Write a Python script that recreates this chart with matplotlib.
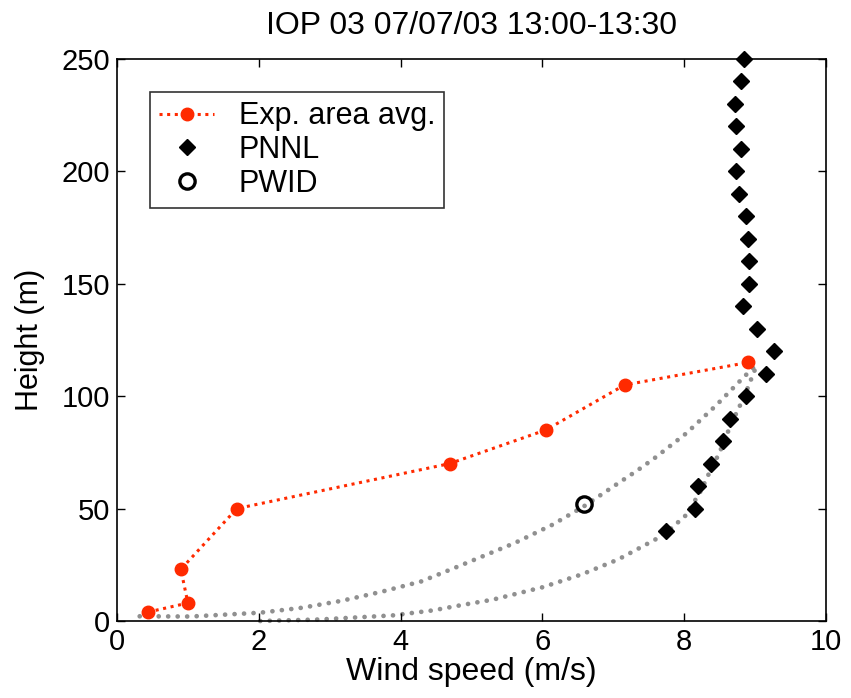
import numpy as np
import matplotlib.pyplot as plt

plt.rcParams['font.family'] = ['Liberation Sans', 'DejaVu Sans']

# experimental area average profile
exp_speed = [0.44, 1.00, 0.90, 1.69, 4.69, 6.05, 7.16, 8.90]
exp_height = [4, 8, 23, 50, 70, 85, 105, 115]

# PNNL profiler
pnnl_speed = [7.74, 8.15, 8.19, 8.38, 8.55, 8.64, 8.87, 9.15, 9.26, 9.03,
              8.83, 8.92, 8.92, 8.90, 8.87, 8.78, 8.73, 8.80, 8.73, 8.71,
              8.80, 8.85]
pnnl_height = [40, 50, 60, 70, 80, 90, 100, 110, 120, 130,
               140, 150, 160, 170, 180, 190, 200, 210, 220, 230,
               240, 250]

# PWID point
pwid_speed = [6.58]
pwid_height = [52]

# fitted profiles (dotted grey)
fit1_speed = [0.32, 1.04, 2.02, 2.61, 3.17, 3.73, 4.29, 4.83, 5.09, 5.61,
              6.14, 6.58, 6.98, 7.34, 7.58, 8.03, 8.45, 8.85, 9.04]
fit1_height = [2.1, 2.0, 3.7, 5.9, 9.0, 13.0, 17.6, 24.5, 27.9, 34.7,
               42.8, 50.9, 59.4, 67.0, 72.4, 83.5, 95.9, 108.8, 114.6]
fit2_speed = [2.02, 2.87, 3.89, 4.45, 4.88, 5.30, 6.00, 6.56, 7.07, 7.33,
              7.59, 7.82, 8.03, 8.24, 8.37, 8.50, 8.66, 8.85, 9.00]
fit2_height = [0.0, 0.7, 2.5, 4.7, 7.2, 9.5, 15.0, 20.8, 27.4, 31.8,
               36.2, 41.3, 47.2, 58.2, 67.0, 75.0, 87.5, 100.0, 112.0]

fig = plt.figure(figsize=(8.51, 6.98), dpi=100)
ax = fig.add_axes([0.1375, 0.1103, 0.8331, 0.8052])

dots = (0, (0.01, 2.0))
for xs, ys in [(fit1_speed, fit1_height), (fit2_speed, fit2_height)]:
    ax.plot(xs, ys, linestyle=dots, color='#909090', linewidth=3.4,
            dash_capstyle='round', zorder=1, clip_on=False)

ax.plot(exp_speed, exp_height, linestyle=(0, (1, 1.5)), color='#ff2a00',
        linewidth=2.2, marker='o', markersize=9, markerfacecolor='#ff2a00',
        markeredgecolor='#ff2a00', label='Exp. area avg.', zorder=3)
ax.plot(pnnl_speed, pnnl_height, linestyle='none', marker='D', markersize=8,
        color='black', label='PNNL', zorder=4, clip_on=False)
ax.plot(pwid_speed, pwid_height, linestyle='none', marker='o', markersize=11,
        markerfacecolor='none', markeredgecolor='black', markeredgewidth=2.4,
        label='PWID', zorder=4)

ax.set_xlim(0, 10)
ax.set_ylim(0, 250)
ax.set_xticks([0, 2, 4, 6, 8, 10])
ax.set_yticks([0, 50, 100, 150, 200, 250])
ax.tick_params(direction='in', top=True, right=True, length=6, width=1,
               labelsize=21, pad=5)
for s in ax.spines.values():
    s.set_linewidth(1.2)

ax.set_xlabel('Wind speed (m/s)', fontsize=23, labelpad=1)
ax.set_ylabel('Height (m)', fontsize=22, labelpad=12)
ax.set_title('IOP 03 07/07/03 13:00-13:30', fontsize=23, pad=18)

leg = ax.legend(loc='upper left', bbox_to_anchor=(0.0465, 0.941), fontsize=22,
                frameon=True, fancybox=False, edgecolor='black',
                handlelength=1.8, borderpad=0.3, labelspacing=0.12,
                handletextpad=0.8, borderaxespad=0)
leg.get_frame().set_linewidth(1.2)

fig.savefig('out.png', dpi=100, facecolor='white')
